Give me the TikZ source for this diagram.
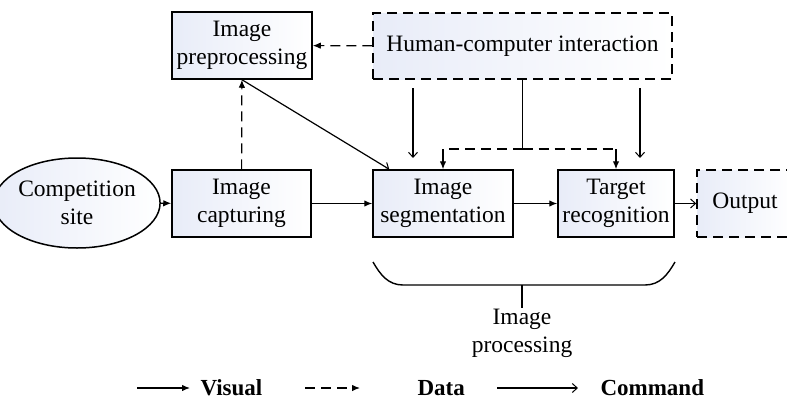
\documentclass[tikz,border=0pt]{standalone}
\usepackage{fontspec}
\setmainfont{Liberation Serif}
\usetikzlibrary{arrows.meta,shapes.geometric}
\definecolor{boxtint}{RGB}{232,236,248}

\begin{document}
\begin{tikzpicture}[x=1pt,y=-1pt,
  font=\fontsize{23.5}{28}\selectfont,
  blk/.style={draw,line width=1.5pt,left color=boxtint,right color=white,
    minimum height=67pt,align=center,inner sep=1pt},
  dblk/.style={blk,dash pattern=on 10pt off 6pt},
  vis/.style={line width=1.2pt,-{Latex[length=8pt,width=6.5pt]}},
  dat/.style={vis,dash pattern=on 10pt off 6pt},
  cmd/.style={line width=1.2pt,-{Straight Barb[length=5pt,width=9pt,line width=1pt]}},
  leg/.style={anchor=west,font=\fontsize{23}{28}\selectfont\bfseries}]
  \useasboundingbox (0,0) rectangle (787,418);
  % blocks
  \node[blk,ellipse,minimum width=130pt,minimum height=90pt,inner sep=0pt] (site) at (77,203) {Competition\\site};
  \node[blk,minimum width=139pt] (cap) at (241.5,203.5) {Image\\capturing};
  \node[blk,minimum width=140pt] (pre) at (242,45.5) {Image\\preprocessing};
  \node[dblk,minimum width=299pt,minimum height=66pt] (hci) at (522.5,46) {Human-computer interaction};
  \node[blk,minimum width=140pt] (seg) at (443,203.5) {Image\\segmentation};
  \node[blk,minimum width=116pt] (tar) at (616,203.5) {Target\\recognition};
  \node[dblk,minimum width=96pt] (out) at (745,203.5) {Output};
  \node[anchor=north,align=center,inner sep=1pt] (proc) at (522,308) {Image\\processing};
  % main chain
  \draw[vis] (site) -- (cap);
  \draw[vis] (cap) -- (seg);
  \draw[vis] (seg) -- (tar);
  \draw[cmd] (tar) -- (out);
  \draw[dat] (cap) -- (pre);
  \draw[dat] (hci) -- (pre);
  \draw[cmd] (pre.south) -- ([xshift=17pt]seg.north west);
  % commands from hci
  \coordinate (c1) at (413,88);  \coordinate (c1e) at (413,158);
  \coordinate (c2) at (640,88);  \coordinate (c2e) at (640,158);
  \draw[cmd] (c1) -- (c1e);
  \draw[cmd] (c2) -- (c2e);
  \coordinate (split) at (522.5,149);
  \coordinate (segtap) at (443,149);
  \coordinate (tartap) at (616,149);
  \draw[line width=1.2pt] (hci.south) -- (split);
  \draw[line width=1.2pt,dash pattern=on 10pt off 6pt] (split) -- (segtap);
  \draw[line width=1.2pt,dash pattern=on 10pt off 6pt] (split) -- (tartap);
  \draw[vis] (segtap) -- (seg.north);
  \draw[vis] (tartap) -- (tar.north);
  % brace
  \coordinate (bl) at (373,262); \coordinate (br) at (675,262);
  \coordinate (bm) at (522,285);
  \draw[line width=1.4pt] (bl) to[out=-60,in=180] (403,285) -- (645,285) to[out=0,in=-120] (br);
  \draw[line width=1.4pt] (bm) -- (proc.north);
  % legend
  \coordinate (lv1) at (137,388); \coordinate (lv2) at (190,388);
  \coordinate (ld1) at (305,388); \coordinate (ld2) at (360,388);
  \coordinate (lc1) at (497,388); \coordinate (lc2) at (578,388);
  \draw[vis] (lv1) -- (lv2);
  \node[leg] (lvis) at (197,388) {Visual};
  \draw[dat] (ld1) -- (ld2);
  \node[leg] (ldat) at (414,388) {Data};
  \draw[cmd] (lc1) -- (lc2);
  \node[leg] (lcmd) at (597,388) {Command};
\end{tikzpicture}
\end{document}
